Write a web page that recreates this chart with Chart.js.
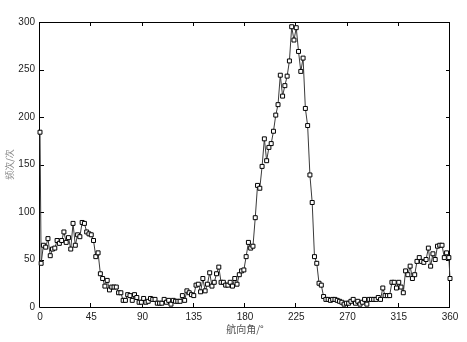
<!DOCTYPE html>
<html><head><meta charset="utf-8">
<script src="https://cdn.jsdelivr.net/npm/chart.js@4.4.0/dist/chart.umd.min.js"></script>
<style>html,body{margin:0;padding:0;background:#fff;overflow:hidden;}</style>
</head><body>
<canvas id="c" width="467" height="342" style="display:block;width:467px;height:342px"></canvas>
<script>
const angles = [0,1,3,5,7,9,11,13,15,17,19,21,23,25,27,29,31,33,35,37,39,41,43,45,47,49,
  51,53,55,57,59,61,63,65,67,69,71,73,75,77,79,81,83,85,87,89,91,93,95,97,99,
  101,103,105,107,109,111,113,115,117,119,121,123,125,127,129,131,133,135,137,139,141,143,145,147,149,
  151,153,155,157,159,161,163,165,167,169,171,173,175,177,179,181,183,185,187,189,191,193,195,197,199,
  201,203,205,207,209,211,213,215,217,219,221,223,225,227,229,231,233,235,237,239,241,243,245,247,249,
  251,253,255,257,259,261,263,265,267,269,271,273,275,277,279,281,283,285,287,289,291,293,295,297,299,
  301,303,305,307,309,311,313,315,317,319,321,323,325,327,329,331,333,335,337,339,341,343,345,347,349,
  351,353,355,357,359,360];
const counts = [184,46,65,63,72,54,61,62,70,67,70,79,68,73,61,88,65,76,74,89,88,79,77,76,70,53,
  57,35,30,22,28,18,21,21,21,15,15,7,7,13,12,7,13,10,5,5,9,5,6,9,8,
  8,4,4,4,8,5,7,3,7,6,6,6,12,7,17,15,13,12,23,24,16,30,17,24,36,
  22,26,35,42,26,26,23,23,26,22,30,24,34,38,39,53,68,62,64,94,128,125,148,177,154,
  168,172,185,202,213,244,222,233,243,259,295,281,294,269,248,262,209,191,139,110,53,46,25,23,11,
  8,8,7,8,8,7,6,5,3,4,4,6,8,4,6,3,5,8,3,8,8,8,8,10,8,
  20,12,12,12,26,26,20,26,21,15,38,34,43,30,34,48,52,48,47,50,62,43,56,50,64,
  65,65,52,57,52,30];
const xTickValues = [0,45,90,135,180,225,270,315,360];
const yTickValues = [0,50,100,150,200,250,300];
const xTitle = '航向角/°';
const yTitle = '频次/次';

const points = angles.map((a, i) => ({x: a, y: counts[i]}));

const framePlugin = {
  id: 'frame',
  beforeDatasetsDraw(chart) {
    const {ctx, chartArea: a, scales: {x, y}} = chart;
    ctx.save();
    ctx.strokeStyle = '#000';
    ctx.lineWidth = 1;
    ctx.beginPath();
    ctx.rect(a.left - 0.5, a.top + 0.5, a.right - a.left, a.bottom - a.top);
    ctx.stroke();
    const tl = 4;
    ctx.beginPath();
    xTickValues.forEach(v => {
      const px = Math.round(x.getPixelForValue(v)) - 0.5;
      ctx.moveTo(px, a.bottom); ctx.lineTo(px, a.bottom - tl);
      ctx.moveTo(px, a.top); ctx.lineTo(px, a.top + tl);
    });
    yTickValues.forEach(v => {
      const py = Math.round(y.getPixelForValue(v)) + 0.5;
      ctx.moveTo(a.left, py); ctx.lineTo(a.left + tl, py);
      ctx.moveTo(a.right, py); ctx.lineTo(a.right - tl, py);
    });
    ctx.stroke();
    ctx.restore();
  }
};

new Chart(document.getElementById('c'), {
  type: 'line',
  data: {
    datasets: [{
      data: points,
      borderColor: '#3a3a3a',
      borderWidth: 1,
      tension: 0,
      pointStyle: 'rect',
      pointRadius: 2.8,
      pointHoverRadius: 2.8,
      pointBackgroundColor: '#fff',
      pointBorderColor: '#000',
      pointBorderWidth: 1,
      clip: false
    }]
  },
  options: {
    responsive: false,
    devicePixelRatio: 1,
    animation: false,
    events: [],
    layout: {autoPadding: false, padding: {left: 0, right: 17, top: 22, bottom: 0}},
    plugins: {legend: {display: false}, tooltip: {enabled: false}},
    scales: {
      x: {
        type: 'linear', min: 0, max: 360,
        afterBuildTicks: s => { s.ticks = xTickValues.map(v => ({value: v})); },
        afterFit: s => { s.height = 35; },
        grid: {display: false, drawTicks: false},
        border: {display: false},
        ticks: {padding: 4, color: '#222', autoSkip: false, maxRotation: 0,
          font: {family: "'Liberation Sans', Arial, sans-serif", size: 10}},
        title: {display: true, text: xTitle, color: '#555',
          font: {family: "'Noto Sans CJK SC', sans-serif", size: 10},
          padding: {top: 0, bottom: 7}}
      },
      y: {
        type: 'linear', min: 0, max: 300,
        afterBuildTicks: s => { s.ticks = yTickValues.map(v => ({value: v})); },
        afterFit: s => { s.width = 40; },
        grid: {display: false, drawTicks: false},
        border: {display: false},
        ticks: {padding: 5, color: '#222', autoSkip: false,
          font: {family: "'Liberation Sans', Arial, sans-serif", size: 10}},
        title: {display: true, text: yTitle, color: '#888',
          font: {family: "'Noto Sans CJK SC', sans-serif", size: 9},
          padding: {top: 4, bottom: 0}}
      }
    }
  },
  plugins: [framePlugin]
});
</script>
</body></html>
